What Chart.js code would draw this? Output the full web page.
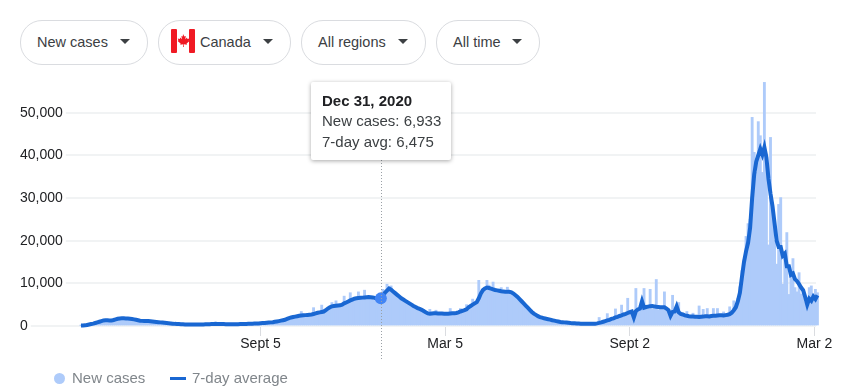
<!DOCTYPE html>
<html>
<head>
<meta charset="utf-8">
<title>New cases - Canada</title>
<script src="https://cdn.jsdelivr.net/npm/chart.js@4/dist/chart.umd.min.js"></script>
<style>
  html, body { margin: 0; padding: 0; background: #fff; width: 842px; height: 391px; overflow: hidden; }
  body { font-family: "Liberation Sans", Arial, sans-serif; position: relative; }
  canvas { position: absolute; left: 0; top: 0; }
  .chip { position: absolute; top: 20px; height: 43px; border: 1px solid #dadce0; border-radius: 22px; color: #3c4043; font-size: 14.5px; line-height: 43px; box-sizing: content-box; }
  .chip span { position: absolute; top: 0; white-space: nowrap; }
  .chip i { position: absolute; top: 18px; width: 0; height: 0; border-left: 5px solid transparent; border-right: 5px solid transparent; border-top: 5px solid #3c4043; }
  .chip svg { position: absolute; left: 12px; top: 8px; }
  #tip { position: absolute; left: 311px; top: 82px; width: 140px; height: 78px; background: #fff; border-radius: 2px; box-shadow: 0 1px 4px rgba(0,0,0,.35); font-size: 15px; color: #3c4043; }
  #tip div { position: absolute; left: 11px; white-space: nowrap; }
  #tip .title { font-weight: bold; color: #202124; top: 10px; }
  .legend { position: absolute; top: 369px; font-size: 15px; color: #80868b; white-space: nowrap; }
  .dot { position: absolute; left: 54px; top: 373px; width: 11px; height: 11px; border-radius: 50%; background: #aecbfa; }
  .dash { position: absolute; left: 170px; top: 377px; width: 16px; height: 3px; background: #1967d2; }
</style>
</head>
<body>
<div class="chip" style="left:20px;width:126px"><span style="left:16px">New cases</span><i style="left:99px"></i></div>
<div class="chip" style="left:158px;width:131px">
  <svg width="24" height="24" viewBox="0 0 24 24"><rect width="24" height="24" fill="#fff"/><rect width="6" height="24" rx="1" fill="#f01a24"/><rect x="18" width="6" height="24" rx="1" fill="#f01a24"/><path d="M12 5l1.4 2.6 1.4-.7-.6 3.3 1.8-1.6.4 1.3 2-.3-.6 2 .8.5-3 2.5.3 1.1-3-.4.1 2.7h-.8l.1-2.7-3 .4.3-1.1-3-2.5.8-.5-.6-2 2 .3.4-1.3 1.8 1.6-.6-3.3 1.4.7z" fill="#f01a24"/></svg>
  <span style="left:41px">Canada</span><i style="left:104px"></i></div>
<div class="chip" style="left:301px;width:123px"><span style="left:16px">All regions</span><i style="left:96px"></i></div>
<div class="chip" style="left:436px;width:102px"><span style="left:16px">All time</span><i style="left:75px"></i></div>

<canvas id="chart" width="842" height="391"></canvas>

<div id="tip"><div class="title" id="tip-title"></div><div id="tip-a" style="top:30px"></div><div id="tip-b" style="top:51px"></div></div>
<div class="dot"></div><div class="legend" style="left:72px">New cases</div>
<div class="dash"></div><div class="legend" style="left:192px">7-day average</div>

<script>
// Days since Mar 13, 2020, one reading every second day
const stepDays = 2;
const hoverIndex = 147;
const hoverTitle = 'Dec 31, 2020';

const yTicks = [0, 10000, 20000, 30000, 40000, 50000];
const xTickDays = [176, 357, 538, 719];
const xTickLabels = ['Sept 5', 'Mar 5', 'Sept 2', 'Mar 2'];

const newCases = [
  80,90,140,230,340,440,560,690,860,1020,
  1140,1290,1360,1310,1290,1310,1420,1540,1690,1800,
  1820,1790,1760,1770,1680,1660,1540,1440,1360,1240,
  1210,1140,1160,1130,1110,1040,1010,940,910,840,
  810,740,710,640,610,540,510,470,460,420,
  410,370,380,350,360,330,340,320,350,340,
  380,380,420,420,460,470,510,480,480,440,
  450,420,430,410,420,400,430,420,450,440,
  470,470,510,510,550,550,590,620,640,700,
  710,790,790,880,890,1010,1040,1180,1230,1400,
  1420,1700,1830,2050,2080,2260,2280,2450,3400,2560,
  2530,2620,2640,2680,4300,2900,3050,3230,4900,3350,
  3650,4150,4400,5500,4700,5900,4780,4820,4980,7000,
  5450,5800,7800,6150,6350,6480,8000,6550,6600,8400,
  6700,6750,6700,6500,6300,6100,6000,6933,8600,8000,
  9800,8500,9400,8000,7600,7250,6850,6550,6150,5900,
  5650,5250,5050,4650,4500,4150,4050,3750,3550,3250,
  3000,3900,2950,2950,3700,2900,2950,2900,2950,2850,
  2900,4100,3000,3000,3050,3200,4100,3550,3700,5000,
  4400,4700,6300,5300,5600,10700,7600,8400,8800,10700,
  9600,8700,10300,8400,8300,8200,9000,8100,8000,9100,
  7950,7850,7600,7150,6800,6250,5850,5250,4850,4250,
  3750,3250,2950,2550,2350,2050,2000,1750,1750,1550,
  1550,1300,1300,1100,1100,900,950,800,850,700,
  750,630,670,560,610,510,570,470,540,480,
  540,490,600,590,2000,820,1050,1000,2900,1400,
  1700,1750,4000,2100,2300,4900,2600,2800,6500,3000,
  3200,1800,8800,3600,3800,5200,8800,4000,4300,8600,
  3900,4800,10900,3800,4300,4500,8000,3900,3400,2000,
  7200,2800,4500,5500,2700,2500,2300,3400,2200,2200,
  3000,2050,2200,4700,2250,3900,2400,4100,2350,2300,
  4100,2700,4100,2500,2600,3300,2700,2600,4500,3400,
  5900,5000,6500,9200,13000,15500,21000,24000,25000,48900,
  40700,36000,47900,44600,36000,57100,40300,19000,44200,27000,
  20000,14500,28500,30100,9800,17000,21900,7400,12000,15800,
  9000,8000,12500,7500,8600,5500,4000,9000,9400,6000,8600,7800
];

const sevenDayAvg = [
  100,100,150,250,350,450,550,700,850,1000,
  1150,1300,1330,1320,1300,1300,1400,1550,1700,1780,
  1800,1800,1780,1750,1700,1650,1550,1450,1350,1250,
  1200,1150,1150,1150,1100,1050,1000,950,900,850,
  800,750,700,650,600,550,500,480,450,430,
  400,380,370,360,350,340,330,330,340,350,
  370,390,410,430,450,480,500,490,470,450,
  440,430,420,420,410,410,420,430,440,450,
  460,480,500,520,540,560,580,600,640,680,
  720,760,800,850,900,980,1060,1150,1250,1350,
  1450,1650,1850,2000,2100,2200,2300,2400,2450,2500,
  2550,2600,2650,2700,2800,2950,3100,3200,3300,3400,
  3700,4100,4400,4600,4700,4750,4800,4850,5000,5300,
  5500,5750,6000,6200,6400,6500,6550,6600,6650,6700,
  6750,6800,6750,6700,6600,6450,6400,6475,7000,7800,
  8300,8800,8500,8100,7700,7300,6900,6500,6200,5900,
  5600,5300,5000,4700,4450,4200,4000,3800,3500,3200,
  2950,2900,2950,3000,3000,2950,2950,2950,2900,2900,
  2900,2950,3000,3000,3050,3200,3400,3550,3700,3900,
  4400,4700,5000,5300,5600,6500,7600,8400,8800,9000,
  8900,8750,8600,8450,8350,8250,8150,8100,8050,8000,
  8000,7900,7600,7200,6800,6300,5800,5300,4800,4300,
  3800,3300,2900,2600,2300,2100,1950,1800,1700,1600,
  1500,1350,1250,1150,1050,950,900,850,800,750,
  700,670,630,600,570,550,530,510,500,500,
  500,520,550,620,720,850,1000,1150,1300,1450,
  1650,1800,2000,2150,2350,2500,2700,2850,3050,3250,
  3400,2000,3500,3900,4100,5800,4300,4450,4550,4650,
  4700,4600,4500,4450,4400,4400,4400,4100,3700,2400,
  3300,3400,4600,3200,2850,2700,2500,2400,2300,2250,
  2200,2150,2150,2100,2150,2200,2300,2300,2250,2350,
  2400,2400,2450,2500,2500,2450,2550,2650,2800,3100,
  3700,4400,5800,7800,11500,15000,17500,19500,23000,30000,
  35500,38500,40000,41500,40200,41900,39500,34500,31000,28000,
  24000,20000,18500,18500,16500,17000,14000,14000,12000,12300,
  11000,10500,9800,9000,8400,6800,5000,6400,5900,6900,6300,7200
];

// Tooltip content goes into the html box
function showTooltip(context) {
    const tooltip = context.tooltip;
    if (!tooltip.body || !tooltip.title.length) return;
    document.getElementById('tip-title').textContent = tooltip.title[0];
    document.getElementById('tip-a').textContent = tooltip.body[0].lines[0];
    document.getElementById('tip-b').textContent = tooltip.body[1].lines[0];
}

// Dotted line under the tooltip
const crosshair = {
    id: 'crosshair',
    afterDatasetsDraw(chart) {
        const x = chart.scales.x.getPixelForValue(hoverIndex * stepDays);
        const ctx = chart.ctx;
        ctx.save();
        ctx.strokeStyle = '#9aa0a6';
        ctx.lineWidth = 1;
        ctx.setLineDash([1, 2]);
        ctx.beginPath();
        ctx.moveTo(Math.round(x) + 0.5, 160);
        ctx.lineTo(Math.round(x) + 0.5, 360);
        ctx.stroke();
        ctx.restore();
    }
};

const chart = new Chart(document.getElementById('chart'), {
    data: {
        datasets: [{
            type: 'line',
            label: '7-day average',
            data: sevenDayAvg.map((v, i) => ({ x: i * stepDays, y: v })),
            borderColor: '#1967d2',
            borderWidth: 4,
            tension: 0,
            pointRadius: 0,
            pointHoverRadius: 6,
            pointHoverBorderWidth: 0,
            pointHoverBackgroundColor: '#4285f4',
            clip: false,
            order: 0
        }, {
            type: 'bar',
            label: 'New cases',
            data: newCases.map((v, i) => ({ x: i * stepDays, y: v })),
            backgroundColor: '#aecbfa',
            hoverBackgroundColor: '#aecbfa',
            barThickness: 2.2,
            clip: false,
            order: 1
        }]
    },
    options: {
        responsive: false,
        animation: false,
        events: [],
        layout: { padding: { left: 20, right: 26, top: 70, bottom: 0 } },
        plugins: {
            legend: { display: false },
            tooltip: {
                enabled: false,
                external: showTooltip,
                callbacks: {
                    title: () => hoverTitle,
                    label: (item) => {
                        const name = item.dataset.type === 'bar' ? 'New cases' : '7-day avg';
                        return name + ': ' + item.parsed.y.toLocaleString('en-US');
                    }
                }
            }
        },
        scales: {
            x: {
                type: 'linear',
                offset: false,
                min: -59.8,
                max: 720.6,
                afterFit: (scale) => { scale.height = 65; },
                afterBuildTicks: (scale) => { scale.ticks = xTickDays.map(v => ({ value: v })); },
                grid: { offset: false, drawOnChartArea: false, drawTicks: true, tickLength: 10, color: '#dadce0', tickWidth: 1 },
                border: { display: false },
                ticks: {
                    padding: 0,
                    maxRotation: 0,
                    autoSkip: false,
                    color: '#202124',
                    font: { family: 'Liberation Sans', size: 14 },
                    callback: (v) => xTickLabels[xTickDays.indexOf(v)]
                }
            },
            y: {
                min: 0,
                max: 60000,
                afterBuildTicks: (scale) => { scale.ticks = yTicks.map(v => ({ value: v })); },
                grid: { color: '#f1f3f4', lineWidth: 2, drawTicks: false },
                border: { display: false },
                ticks: {
                    mirror: true,
                    padding: 0,
                    color: '#202124',
                    font: { family: 'Liberation Sans', size: 14 },
                    showLabelBackdrop: true,
                    backdropColor: '#fff',
                    backdropPadding: { left: 0, right: 3, top: 2, bottom: 2 },
                    callback: (v) => v.toLocaleString('en-US')
                }
            }
        }
    },
    plugins: [crosshair]
});

// Dec 31, 2020 is the point held open in the reference
chart.setActiveElements([{ datasetIndex: 0, index: hoverIndex }]);
chart.tooltip.setActiveElements([
    { datasetIndex: 1, index: hoverIndex },
    { datasetIndex: 0, index: hoverIndex }
], { x: 381, y: 297 });
chart.update();
</script>
</body>
</html>
